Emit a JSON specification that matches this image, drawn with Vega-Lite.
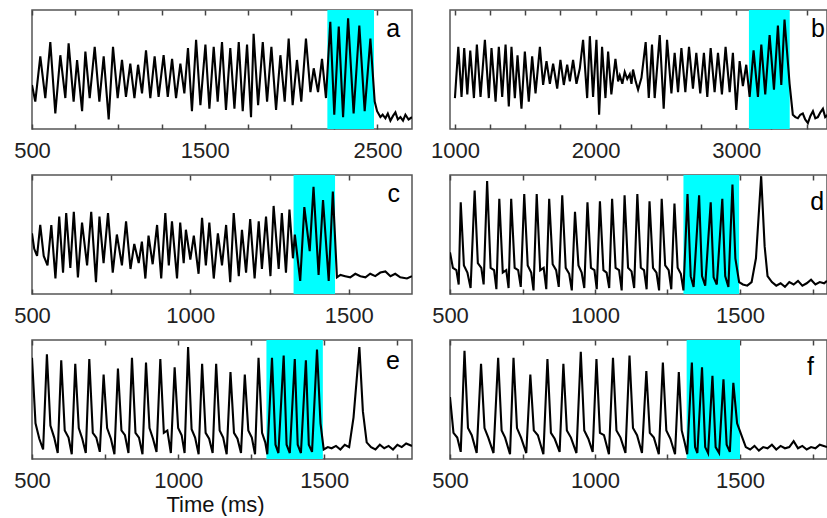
{
"$schema": "https://vega.github.io/schema/vega-lite/v6.json",
"background": "white",
"padding": {"left": 12, "top": 8, "right": 2, "bottom": 0},
"config": {
  "font": "Liberation Sans",
  "view": {"stroke": "#555", "strokeWidth": 1.5},
  "axis": {"grid": false, "domain": false, "tickColor": "#444", "tickWidth": 1.5, "tickSize": -5, "labelFontSize": 22, "labelColor": "#222", "labelPadding": 16, "labelOverlap": false, "labelFlush": false, "format": "d", "titleFontSize": 22, "titleFontWeight": "normal", "titleColor": "#111"}
},
"datasets": {
"spans": [
 {"panel": "a", "start": 2210, "end": 2480, "label": "a"},
 {"panel": "b", "start": 3090, "end": 3380, "label": "b"},
 {"panel": "c", "start": 1326, "end": 1457, "label": "c"},
 {"panel": "d", "start": 1305, "end": 1497, "label": "d"},
 {"panel": "e", "start": 1302, "end": 1495, "label": "e"},
 {"panel": "f", "start": 1316, "end": 1500, "label": "f"}
],
"a": [
{"t":500,"v":37},{"t":519,"v":23},{"t":548,"v":61},{"t":577,"v":26},{"t":606,"v":73},{"t":635,"v":13},{"t":664,"v":62},{"t":693,"v":26},{"t":712,"v":72},{"t":741,"v":23},{"t":761,"v":58},{"t":790,"v":15},{"t":809,"v":65},{"t":834,"v":26},{"t":863,"v":69},{"t":890,"v":23},{"t":915,"v":61},{"t":944,"v":8},{"t":969,"v":69},{"t":996,"v":26},{"t":1021,"v":58},{"t":1044,"v":27},{"t":1069,"v":55},{"t":1093,"v":26},{"t":1114,"v":54},{"t":1137,"v":30},{"t":1160,"v":66},{"t":1185,"v":26},{"t":1210,"v":61},{"t":1233,"v":27},{"t":1262,"v":62},{"t":1286,"v":27},{"t":1311,"v":59},{"t":1334,"v":26},{"t":1359,"v":55},{"t":1382,"v":30},{"t":1403,"v":68},{"t":1426,"v":15},{"t":1450,"v":75},{"t":1475,"v":20},{"t":1504,"v":71},{"t":1527,"v":17},{"t":1552,"v":69},{"t":1575,"v":23},{"t":1600,"v":73},{"t":1623,"v":16},{"t":1648,"v":68},{"t":1672,"v":17},{"t":1697,"v":73},{"t":1720,"v":15},{"t":1745,"v":71},{"t":1768,"v":10},{"t":1783,"v":80},{"t":1809,"v":20},{"t":1836,"v":73},{"t":1861,"v":23},{"t":1886,"v":69},{"t":1913,"v":16},{"t":1938,"v":62},{"t":1963,"v":23},{"t":1986,"v":76},{"t":2009,"v":20},{"t":2034,"v":58},{"t":2059,"v":23},{"t":2086,"v":76},{"t":2112,"v":31},{"t":2131,"v":51},{"t":2156,"v":31},{"t":2179,"v":59},{"t":2202,"v":26},{"t":2227,"v":90},{"t":2250,"v":12},{"t":2276,"v":86},{"t":2301,"v":10},{"t":2330,"v":93},{"t":2362,"v":13},{"t":2395,"v":87},{"t":2426,"v":15},{"t":2459,"v":76},{"t":2484,"v":23},{"t":2498,"v":15},{"t":2517,"v":10},{"t":2530,"v":12},{"t":2546,"v":9},{"t":2560,"v":13},{"t":2575,"v":7},{"t":2590,"v":11},{"t":2604,"v":14},{"t":2618,"v":8},{"t":2633,"v":10},{"t":2648,"v":7},{"t":2662,"v":12},{"t":2680,"v":8},{"t":2700,"v":10}
],
"b": [
{"t":1000,"v":26},{"t":1024,"v":69},{"t":1047,"v":27},{"t":1066,"v":68},{"t":1088,"v":29},{"t":1109,"v":66},{"t":1135,"v":26},{"t":1156,"v":71},{"t":1182,"v":27},{"t":1213,"v":75},{"t":1241,"v":26},{"t":1260,"v":68},{"t":1289,"v":23},{"t":1312,"v":69},{"t":1336,"v":27},{"t":1360,"v":71},{"t":1383,"v":19},{"t":1402,"v":69},{"t":1426,"v":26},{"t":1445,"v":62},{"t":1473,"v":17},{"t":1497,"v":65},{"t":1525,"v":23},{"t":1549,"v":61},{"t":1573,"v":30},{"t":1604,"v":69},{"t":1627,"v":37},{"t":1651,"v":57},{"t":1675,"v":38},{"t":1698,"v":55},{"t":1727,"v":34},{"t":1750,"v":58},{"t":1774,"v":37},{"t":1798,"v":54},{"t":1817,"v":40},{"t":1840,"v":58},{"t":1864,"v":38},{"t":1888,"v":51},{"t":1911,"v":75},{"t":1940,"v":26},{"t":1959,"v":78},{"t":1982,"v":27},{"t":2006,"v":75},{"t":2025,"v":12},{"t":2046,"v":69},{"t":2070,"v":26},{"t":2089,"v":65},{"t":2112,"v":29},{"t":2141,"v":59},{"t":2160,"v":40},{"t":2172,"v":45},{"t":2190,"v":38},{"t":2207,"v":48},{"t":2225,"v":42},{"t":2243,"v":46},{"t":2255,"v":38},{"t":2266,"v":50},{"t":2285,"v":40},{"t":2302,"v":33},{"t":2326,"v":43},{"t":2356,"v":73},{"t":2378,"v":26},{"t":2401,"v":71},{"t":2420,"v":26},{"t":2456,"v":79},{"t":2484,"v":17},{"t":2508,"v":75},{"t":2539,"v":30},{"t":2562,"v":64},{"t":2586,"v":31},{"t":2610,"v":68},{"t":2638,"v":31},{"t":2664,"v":69},{"t":2692,"v":34},{"t":2716,"v":64},{"t":2744,"v":30},{"t":2770,"v":64},{"t":2794,"v":27},{"t":2818,"v":68},{"t":2846,"v":31},{"t":2870,"v":64},{"t":2898,"v":29},{"t":2924,"v":69},{"t":2953,"v":31},{"t":2976,"v":64},{"t":3000,"v":16},{"t":3024,"v":57},{"t":3047,"v":36},{"t":3071,"v":54},{"t":3095,"v":27},{"t":3123,"v":66},{"t":3154,"v":27},{"t":3178,"v":71},{"t":3206,"v":29},{"t":3237,"v":79},{"t":3268,"v":33},{"t":3296,"v":87},{"t":3320,"v":37},{"t":3343,"v":92},{"t":3379,"v":38},{"t":3402,"v":12},{"t":3420,"v":10},{"t":3438,"v":9},{"t":3455,"v":12},{"t":3473,"v":13},{"t":3490,"v":8},{"t":3509,"v":5},{"t":3527,"v":11},{"t":3545,"v":15},{"t":3562,"v":9},{"t":3580,"v":10},{"t":3598,"v":14},{"t":3616,"v":17},{"t":3632,"v":10},{"t":3651,"v":12}
],
"c": [
{"t":500,"v":51},{"t":507,"v":38},{"t":516,"v":32},{"t":526,"v":58},{"t":537,"v":32},{"t":549,"v":24},{"t":561,"v":58},{"t":574,"v":13},{"t":586,"v":65},{"t":598,"v":18},{"t":608,"v":68},{"t":621,"v":22},{"t":632,"v":69},{"t":645,"v":14},{"t":658,"v":60},{"t":674,"v":24},{"t":687,"v":69},{"t":702,"v":10},{"t":713,"v":65},{"t":726,"v":26},{"t":740,"v":68},{"t":755,"v":18},{"t":768,"v":50},{"t":784,"v":24},{"t":797,"v":61},{"t":811,"v":21},{"t":823,"v":42},{"t":837,"v":26},{"t":847,"v":44},{"t":858,"v":13},{"t":868,"v":49},{"t":881,"v":25},{"t":895,"v":58},{"t":908,"v":13},{"t":921,"v":68},{"t":932,"v":24},{"t":942,"v":61},{"t":958,"v":13},{"t":968,"v":60},{"t":979,"v":26},{"t":986,"v":54},{"t":1000,"v":29},{"t":1011,"v":49},{"t":1026,"v":17},{"t":1037,"v":64},{"t":1049,"v":24},{"t":1060,"v":60},{"t":1074,"v":13},{"t":1087,"v":51},{"t":1100,"v":24},{"t":1113,"v":58},{"t":1126,"v":10},{"t":1137,"v":68},{"t":1153,"v":15},{"t":1163,"v":54},{"t":1176,"v":18},{"t":1189,"v":63},{"t":1203,"v":13},{"t":1216,"v":61},{"t":1226,"v":21},{"t":1239,"v":65},{"t":1253,"v":15},{"t":1263,"v":74},{"t":1279,"v":21},{"t":1289,"v":68},{"t":1302,"v":18},{"t":1313,"v":71},{"t":1324,"v":30},{"t":1330,"v":50},{"t":1347,"v":11},{"t":1360,"v":73},{"t":1377,"v":36},{"t":1389,"v":90},{"t":1405,"v":16},{"t":1419,"v":79},{"t":1437,"v":11},{"t":1450,"v":86},{"t":1463,"v":14},{"t":1474,"v":16},{"t":1489,"v":15},{"t":1505,"v":14},{"t":1521,"v":17},{"t":1537,"v":15},{"t":1553,"v":14},{"t":1568,"v":17},{"t":1584,"v":15},{"t":1600,"v":18},{"t":1616,"v":19},{"t":1632,"v":15},{"t":1647,"v":17},{"t":1663,"v":14},{"t":1684,"v":13},{"t":1700,"v":15}
],
"d": [
{"t":500,"v":35},{"t":510,"v":22},{"t":522,"v":20},{"t":530,"v":8},{"t":537,"v":77},{"t":548,"v":24},{"t":560,"v":18},{"t":571,"v":5},{"t":585,"v":87},{"t":596,"v":26},{"t":608,"v":22},{"t":616,"v":8},{"t":628,"v":95},{"t":640,"v":22},{"t":652,"v":20},{"t":660,"v":4},{"t":670,"v":80},{"t":682,"v":18},{"t":694,"v":20},{"t":702,"v":5},{"t":711,"v":80},{"t":723,"v":22},{"t":735,"v":20},{"t":744,"v":6},{"t":756,"v":84},{"t":768,"v":24},{"t":780,"v":18},{"t":788,"v":3},{"t":799,"v":84},{"t":811,"v":20},{"t":823,"v":22},{"t":832,"v":4},{"t":842,"v":80},{"t":854,"v":25},{"t":866,"v":20},{"t":875,"v":6},{"t":887,"v":83},{"t":899,"v":22},{"t":911,"v":17},{"t":920,"v":3},{"t":931,"v":69},{"t":943,"v":24},{"t":954,"v":18},{"t":963,"v":5},{"t":974,"v":77},{"t":986,"v":22},{"t":998,"v":20},{"t":1006,"v":4},{"t":1017,"v":78},{"t":1029,"v":20},{"t":1040,"v":18},{"t":1049,"v":5},{"t":1059,"v":80},{"t":1071,"v":22},{"t":1083,"v":20},{"t":1092,"v":3},{"t":1102,"v":83},{"t":1114,"v":22},{"t":1126,"v":19},{"t":1135,"v":5},{"t":1146,"v":84},{"t":1158,"v":22},{"t":1169,"v":20},{"t":1178,"v":4},{"t":1188,"v":78},{"t":1200,"v":22},{"t":1212,"v":18},{"t":1221,"v":3},{"t":1230,"v":80},{"t":1242,"v":24},{"t":1254,"v":20},{"t":1263,"v":4},{"t":1274,"v":76},{"t":1285,"v":22},{"t":1296,"v":17},{"t":1305,"v":3},{"t":1319,"v":84},{"t":1330,"v":15},{"t":1340,"v":6},{"t":1359,"v":83},{"t":1369,"v":15},{"t":1380,"v":7},{"t":1399,"v":77},{"t":1409,"v":14},{"t":1420,"v":8},{"t":1439,"v":80},{"t":1449,"v":15},{"t":1460,"v":6},{"t":1474,"v":92},{"t":1484,"v":30},{"t":1497,"v":10},{"t":1510,"v":8},{"t":1525,"v":7},{"t":1540,"v":10},{"t":1555,"v":30},{"t":1573,"v":99},{"t":1585,"v":40},{"t":1595,"v":15},{"t":1610,"v":10},{"t":1625,"v":7},{"t":1640,"v":9},{"t":1655,"v":6},{"t":1670,"v":10},{"t":1685,"v":8},{"t":1700,"v":11},{"t":1715,"v":7},{"t":1730,"v":9},{"t":1745,"v":12},{"t":1760,"v":8},{"t":1775,"v":10},{"t":1790,"v":9},{"t":1800,"v":11}
],
"e": [
{"t":500,"v":85},{"t":512,"v":30},{"t":525,"v":17},{"t":538,"v":8},{"t":551,"v":88},{"t":563,"v":28},{"t":576,"v":18},{"t":588,"v":5},{"t":600,"v":83},{"t":612,"v":24},{"t":625,"v":18},{"t":636,"v":4},{"t":648,"v":80},{"t":660,"v":26},{"t":672,"v":17},{"t":684,"v":5},{"t":696,"v":84},{"t":708,"v":22},{"t":720,"v":18},{"t":732,"v":6},{"t":745,"v":71},{"t":757,"v":26},{"t":770,"v":17},{"t":782,"v":4},{"t":794,"v":76},{"t":806,"v":24},{"t":818,"v":20},{"t":830,"v":5},{"t":842,"v":85},{"t":854,"v":22},{"t":866,"v":18},{"t":878,"v":4},{"t":890,"v":81},{"t":902,"v":26},{"t":914,"v":17},{"t":926,"v":6},{"t":939,"v":84},{"t":951,"v":22},{"t":963,"v":24},{"t":975,"v":5},{"t":988,"v":77},{"t":1000,"v":26},{"t":1012,"v":20},{"t":1022,"v":5},{"t":1034,"v":94},{"t":1046,"v":25},{"t":1058,"v":18},{"t":1070,"v":4},{"t":1082,"v":80},{"t":1094,"v":22},{"t":1106,"v":17},{"t":1118,"v":5},{"t":1130,"v":80},{"t":1142,"v":24},{"t":1154,"v":18},{"t":1166,"v":4},{"t":1179,"v":73},{"t":1191,"v":22},{"t":1203,"v":17},{"t":1215,"v":5},{"t":1228,"v":71},{"t":1240,"v":24},{"t":1252,"v":18},{"t":1263,"v":4},{"t":1275,"v":85},{"t":1287,"v":22},{"t":1298,"v":14},{"t":1305,"v":4},{"t":1321,"v":85},{"t":1333,"v":12},{"t":1343,"v":5},{"t":1361,"v":87},{"t":1371,"v":12},{"t":1382,"v":5},{"t":1399,"v":84},{"t":1409,"v":12},{"t":1420,"v":5},{"t":1437,"v":83},{"t":1447,"v":12},{"t":1458,"v":6},{"t":1475,"v":92},{"t":1487,"v":30},{"t":1498,"v":8},{"t":1512,"v":10},{"t":1525,"v":9},{"t":1540,"v":11},{"t":1555,"v":8},{"t":1570,"v":12},{"t":1585,"v":10},{"t":1600,"v":35},{"t":1620,"v":94},{"t":1632,"v":40},{"t":1645,"v":14},{"t":1660,"v":10},{"t":1675,"v":8},{"t":1690,"v":12},{"t":1705,"v":9},{"t":1720,"v":11},{"t":1735,"v":8},{"t":1750,"v":12},{"t":1765,"v":10},{"t":1780,"v":13},{"t":1800,"v":11}
],
"f": [
{"t":500,"v":52},{"t":512,"v":22},{"t":525,"v":18},{"t":537,"v":6},{"t":550,"v":91},{"t":562,"v":26},{"t":575,"v":20},{"t":592,"v":5},{"t":607,"v":80},{"t":619,"v":26},{"t":632,"v":18},{"t":650,"v":5},{"t":666,"v":85},{"t":678,"v":24},{"t":690,"v":18},{"t":707,"v":4},{"t":719,"v":85},{"t":731,"v":26},{"t":745,"v":18},{"t":763,"v":5},{"t":777,"v":71},{"t":789,"v":24},{"t":803,"v":20},{"t":822,"v":4},{"t":836,"v":84},{"t":848,"v":22},{"t":861,"v":17},{"t":878,"v":6},{"t":891,"v":80},{"t":903,"v":24},{"t":917,"v":18},{"t":936,"v":5},{"t":951,"v":90},{"t":963,"v":24},{"t":977,"v":17},{"t":992,"v":6},{"t":1005,"v":84},{"t":1017,"v":22},{"t":1031,"v":20},{"t":1048,"v":4},{"t":1062,"v":85},{"t":1074,"v":24},{"t":1088,"v":18},{"t":1105,"v":5},{"t":1119,"v":87},{"t":1131,"v":26},{"t":1145,"v":20},{"t":1162,"v":5},{"t":1177,"v":74},{"t":1189,"v":22},{"t":1203,"v":18},{"t":1220,"v":4},{"t":1234,"v":81},{"t":1246,"v":24},{"t":1260,"v":17},{"t":1276,"v":4},{"t":1289,"v":73},{"t":1299,"v":24},{"t":1309,"v":14},{"t":1318,"v":4},{"t":1334,"v":81},{"t":1345,"v":10},{"t":1353,"v":5},{"t":1369,"v":77},{"t":1380,"v":10},{"t":1390,"v":5},{"t":1405,"v":70},{"t":1416,"v":10},{"t":1428,"v":5},{"t":1443,"v":67},{"t":1454,"v":12},{"t":1465,"v":6},{"t":1477,"v":64},{"t":1490,"v":30},{"t":1508,"v":18},{"t":1520,"v":10},{"t":1535,"v":8},{"t":1550,"v":11},{"t":1565,"v":7},{"t":1580,"v":10},{"t":1595,"v":9},{"t":1610,"v":12},{"t":1625,"v":8},{"t":1640,"v":11},{"t":1655,"v":9},{"t":1670,"v":10},{"t":1685,"v":15},{"t":1700,"v":9},{"t":1715,"v":11},{"t":1730,"v":8},{"t":1745,"v":10},{"t":1760,"v":9},{"t":1775,"v":12},{"t":1800,"v":10}
]
},
"columns": 2,
"spacing": {"row": 46, "column": 38},
"bounds": "flush",
"concat": [
 {"width": 380, "height": 119, "resolve": {"axis": {"x": "independent"}}, "layer": [
  {"data": {"name": "spans"}, "transform": [{"filter": "datum.panel == 'a'"}], "mark": {"type": "rect", "color": "#00FFFF"}, "encoding": {"x": {"field": "start", "type": "quantitative", "title": null, "axis": {"orient": "top", "labels": false, "values": [500,750,1000,1250,1500,1750,2000,2250,2500]}}, "x2": {"field": "end"}}},
  {"data": {"name": "a"}, "mark": {"type": "line", "color": "black", "strokeWidth": 2.1, "clip": true}, "encoding": {"x": {"field": "t", "type": "quantitative", "title": null, "scale": {"domain": [500, 2700], "nice": false, "zero": false}, "axis": {"values": [500,750,1000,1250,1500,1750,2000,2250,2500], "labelExpr": "datum.value % 1000 == 500 ? datum.label : ''"}}, "y": {"field": "v", "type": "quantitative", "scale": {"domain": [0, 100]}, "axis": null}}},
  {"data": {"name": "spans"}, "transform": [{"filter": "datum.panel == 'a'"}], "mark": {"type": "text", "align": "right", "baseline": "alphabetic", "fontSize": 25, "color": "black"}, "encoding": {"x": {"datum": 2631, "type": "quantitative", "axis": null}, "y": {"datum": 77, "type": "quantitative", "axis": null}, "text": {"field": "label"}}}
 ]},
 {"width": 377, "height": 119, "resolve": {"axis": {"x": "independent"}}, "layer": [
  {"data": {"name": "spans"}, "transform": [{"filter": "datum.panel == 'b'"}], "mark": {"type": "rect", "color": "#00FFFF"}, "encoding": {"x": {"field": "start", "type": "quantitative", "title": null, "axis": {"orient": "top", "labels": false, "values": [1000,1250,1500,1750,2000,2250,2500,2750,3000,3250,3500]}}, "x2": {"field": "end"}}},
  {"data": {"name": "b"}, "mark": {"type": "line", "color": "black", "strokeWidth": 2.1, "clip": true}, "encoding": {"x": {"field": "t", "type": "quantitative", "title": null, "scale": {"domain": [965, 3645], "nice": false, "zero": false}, "axis": {"values": [1000,1250,1500,1750,2000,2250,2500,2750,3000,3250,3500], "labelExpr": "datum.value % 1000 == 0 ? datum.label : ''"}}, "y": {"field": "v", "type": "quantitative", "scale": {"domain": [0, 100]}, "axis": null}}},
  {"data": {"name": "spans"}, "transform": [{"filter": "datum.panel == 'b'"}], "mark": {"type": "text", "align": "right", "baseline": "alphabetic", "fontSize": 25, "color": "black"}, "encoding": {"x": {"datum": 3630, "type": "quantitative", "axis": null}, "y": {"datum": 77, "type": "quantitative", "axis": null}, "text": {"field": "label"}}}
 ]},
 {"width": 380, "height": 119, "resolve": {"axis": {"x": "independent"}}, "layer": [
  {"data": {"name": "spans"}, "transform": [{"filter": "datum.panel == 'c'"}], "mark": {"type": "rect", "color": "#00FFFF"}, "encoding": {"x": {"field": "start", "type": "quantitative", "title": null, "axis": {"orient": "top", "labels": false, "values": [500,750,1000,1250,1500]}}, "x2": {"field": "end"}}},
  {"data": {"name": "c"}, "mark": {"type": "line", "color": "black", "strokeWidth": 2.1, "clip": true}, "encoding": {"x": {"field": "t", "type": "quantitative", "title": null, "scale": {"domain": [500, 1700], "nice": false, "zero": false}, "axis": {"values": [500,750,1000,1250,1500], "labelExpr": "datum.value % 500 == 0 ? datum.label : ''"}}, "y": {"field": "v", "type": "quantitative", "scale": {"domain": [0, 100]}, "axis": null}}},
  {"data": {"name": "spans"}, "transform": [{"filter": "datum.panel == 'c'"}], "mark": {"type": "text", "align": "right", "baseline": "alphabetic", "fontSize": 25, "color": "black"}, "encoding": {"x": {"datum": 1662, "type": "quantitative", "axis": null}, "y": {"datum": 77, "type": "quantitative", "axis": null}, "text": {"field": "label"}}}
 ]},
 {"width": 377, "height": 119, "resolve": {"axis": {"x": "independent"}}, "layer": [
  {"data": {"name": "spans"}, "transform": [{"filter": "datum.panel == 'd'"}], "mark": {"type": "rect", "color": "#00FFFF"}, "encoding": {"x": {"field": "start", "type": "quantitative", "title": null, "axis": {"orient": "top", "labels": false, "values": [500,750,1000,1250,1500,1750]}}, "x2": {"field": "end"}}},
  {"data": {"name": "d"}, "mark": {"type": "line", "color": "black", "strokeWidth": 2.1, "clip": true}, "encoding": {"x": {"field": "t", "type": "quantitative", "title": null, "scale": {"domain": [500, 1800], "nice": false, "zero": false}, "axis": {"values": [500,750,1000,1250,1500,1750], "labelExpr": "datum.value % 500 == 0 ? datum.label : ''"}}, "y": {"field": "v", "type": "quantitative", "scale": {"domain": [0, 100]}, "axis": null}}},
  {"data": {"name": "spans"}, "transform": [{"filter": "datum.panel == 'd'"}], "mark": {"type": "text", "align": "right", "baseline": "alphabetic", "fontSize": 25, "color": "black"}, "encoding": {"x": {"datum": 1790, "type": "quantitative", "axis": null}, "y": {"datum": 71, "type": "quantitative", "axis": null}, "text": {"field": "label"}}}
 ]},
 {"width": 380, "height": 119, "resolve": {"axis": {"x": "independent"}}, "layer": [
  {"data": {"name": "spans"}, "transform": [{"filter": "datum.panel == 'e'"}], "mark": {"type": "rect", "color": "#00FFFF"}, "encoding": {"x": {"field": "start", "type": "quantitative", "title": null, "axis": {"orient": "top", "labels": false, "values": [500,750,1000,1250,1500,1750]}}, "x2": {"field": "end"}}},
  {"data": {"name": "e"}, "mark": {"type": "line", "color": "black", "strokeWidth": 2.1, "clip": true}, "encoding": {"x": {"field": "t", "type": "quantitative", "title": "Time (ms)", "scale": {"domain": [500, 1800], "nice": false, "zero": false}, "axis": {"values": [500,750,1000,1250,1500,1750], "labelExpr": "datum.value % 500 == 0 ? datum.label : ''", "titlePadding": 3, "titleX": 183}}, "y": {"field": "v", "type": "quantitative", "scale": {"domain": [0, 100]}, "axis": null}}},
  {"data": {"name": "spans"}, "transform": [{"filter": "datum.panel == 'e'"}], "mark": {"type": "text", "align": "right", "baseline": "alphabetic", "fontSize": 25, "color": "black"}, "encoding": {"x": {"datum": 1759, "type": "quantitative", "axis": null}, "y": {"datum": 76, "type": "quantitative", "axis": null}, "text": {"field": "label"}}}
 ]},
 {"width": 377, "height": 119, "resolve": {"axis": {"x": "independent"}}, "layer": [
  {"data": {"name": "spans"}, "transform": [{"filter": "datum.panel == 'f'"}], "mark": {"type": "rect", "color": "#00FFFF"}, "encoding": {"x": {"field": "start", "type": "quantitative", "title": null, "axis": {"orient": "top", "labels": false, "values": [500,750,1000,1250,1500,1750]}}, "x2": {"field": "end"}}},
  {"data": {"name": "f"}, "mark": {"type": "line", "color": "black", "strokeWidth": 2.1, "clip": true}, "encoding": {"x": {"field": "t", "type": "quantitative", "title": null, "scale": {"domain": [500, 1800], "nice": false, "zero": false}, "axis": {"values": [500,750,1000,1250,1500,1750], "labelExpr": "datum.value % 500 == 0 ? datum.label : ''"}}, "y": {"field": "v", "type": "quantitative", "scale": {"domain": [0, 100]}, "axis": null}}},
  {"data": {"name": "spans"}, "transform": [{"filter": "datum.panel == 'f'"}], "mark": {"type": "text", "align": "right", "baseline": "alphabetic", "fontSize": 25, "color": "black"}, "encoding": {"x": {"datum": 1755, "type": "quantitative", "axis": null}, "y": {"datum": 71, "type": "quantitative", "axis": null}, "text": {"field": "label"}}}
 ]}
]
}
